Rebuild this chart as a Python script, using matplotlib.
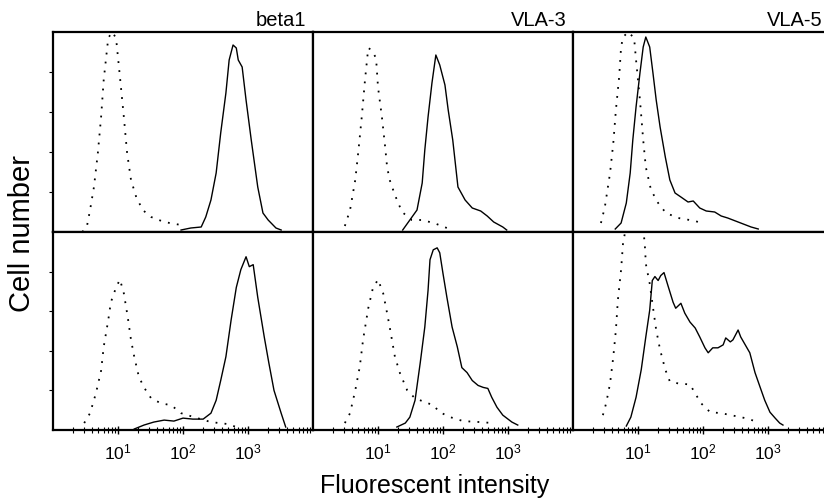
import numpy as np
import matplotlib

matplotlib.use("Agg")
import matplotlib.pyplot as plt

plt.rcParams["font.family"] = ["Liberation Sans", "DejaVu Sans"]
plt.rcParams["mathtext.fontset"] = "custom"
plt.rcParams["mathtext.rm"] = "Liberation Sans"

antibodies = ["beta1", "VLA-3", "VLA-5"]
decade_ticks = [10, 100, 1000]
decade_labels = [r"$\mathregular{10^1}$", r"$\mathregular{10^2}$", r"$\mathregular{10^3}$"]

# x values are log10(fluorescent intensity), y is relative cell number
# top row
top_beta1_ctrl_x = [0.45, 0.52, 0.57, 0.63, 0.69, 0.74, 0.78, 0.85, 0.91, 0.97, 1.03, 1.09,
                    1.14, 1.2, 1.28, 1.38, 1.51, 1.71, 1.97]
top_beta1_ctrl_y = [0.0, 0.025, 0.11, 0.225, 0.395, 0.575, 0.76, 0.97, 1.0, 0.97, 0.775, 0.575,
                    0.395, 0.26, 0.175, 0.11, 0.075, 0.05, 0.035]
top_beta1_stain_x = [1.97, 2.12, 2.28, 2.35, 2.43, 2.51, 2.58, 2.66, 2.71, 2.77, 2.82, 2.85,
                     2.91, 2.97, 3.05, 3.15, 3.23, 3.31, 3.43, 3.51]
top_beta1_stain_y = [0.01, 0.02, 0.025, 0.075, 0.16, 0.295, 0.495, 0.695, 0.86, 0.935, 0.92,
                     0.86, 0.825, 0.66, 0.46, 0.225, 0.095, 0.06, 0.02, 0.01]

top_vla3_ctrl_x = [0.49, 0.57, 0.65, 0.70, 0.75, 0.80, 0.85, 0.90, 0.97, 1.0, 1.06, 1.11, 1.14,
                   1.18, 1.26, 1.37, 1.52, 1.69, 1.9, 2.06]
top_vla3_ctrl_y = [0.03, 0.11, 0.26, 0.41, 0.575, 0.76, 0.92, 0.91, 0.87, 0.725, 0.575, 0.425,
                   0.325, 0.26, 0.185, 0.10, 0.06, 0.06, 0.04, 0.02]
top_vla3_stain_x = [1.38, 1.49, 1.6, 1.68, 1.72, 1.77, 1.83, 1.89, 1.95, 2.03, 2.08, 2.15, 2.23,
                    2.34, 2.45, 2.58, 2.68, 2.78, 2.92, 2.98]
top_vla3_stain_y = [0.01, 0.06, 0.11, 0.245, 0.41, 0.575, 0.745, 0.885, 0.835, 0.735, 0.61, 0.46,
                    0.225, 0.16, 0.12, 0.105, 0.08, 0.05, 0.025, 0.01]

top_vla5_ctrl_x = [0.43, 0.49, 0.57, 0.62, 0.66, 0.71, 0.74, 0.77, 0.85, 0.94, 0.97, 1.03, 1.08,
                   1.12, 1.2, 1.31, 1.43, 1.62, 1.88, 1.97]
top_vla5_ctrl_y = [0.045, 0.125, 0.295, 0.445, 0.61, 0.775, 0.925, 0.975, 1.0, 0.97, 0.86, 0.66,
                   0.46, 0.325, 0.21, 0.145, 0.095, 0.07, 0.055, 0.045]
top_vla5_stain_x = [0.65, 0.74, 0.82, 0.88, 0.92, 0.97, 1.03, 1.08, 1.12, 1.18, 1.23, 1.28, 1.34,
                    1.42, 1.49, 1.57, 1.66, 1.77, 1.85, 1.95, 2.05, 2.18, 2.28, 2.38, 2.54, 2.74,
                    2.85]
top_vla5_stain_y = [0.015, 0.045, 0.145, 0.295, 0.46, 0.625, 0.795, 0.925, 0.975, 0.925, 0.795,
                    0.66, 0.525, 0.375, 0.26, 0.195, 0.175, 0.15, 0.155, 0.12, 0.105, 0.1, 0.08,
                    0.07, 0.05, 0.025, 0.015]

# bottom row
bot_beta1_ctrl_x = [0.48, 0.57, 0.66, 0.74, 0.78, 0.85, 0.89, 0.97, 1.03, 1.09, 1.15, 1.2, 1.25,
                    1.32, 1.4, 1.51, 1.66, 1.82, 1.97, 2.17, 2.43, 2.69, 2.82]
bot_beta1_ctrl_y = [0.035, 0.085, 0.185, 0.30, 0.42, 0.555, 0.645, 0.72, 0.76, 0.69, 0.57, 0.455,
                    0.37, 0.27, 0.215, 0.16, 0.135, 0.125, 0.085, 0.065, 0.04, 0.03, 0.015]
bot_beta1_stain_x = [1.25, 1.4, 1.55, 1.71, 1.86, 2.0, 2.15, 2.31, 2.43, 2.51, 2.58, 2.66, 2.74,
                     2.82, 2.89, 2.97, 3.02, 3.08, 3.15, 3.25, 3.32, 3.4, 3.51, 3.58]
bot_beta1_stain_y = [0.005, 0.025, 0.04, 0.05, 0.045, 0.06, 0.055, 0.055, 0.085, 0.15, 0.25, 0.37,
                     0.555, 0.72, 0.81, 0.875, 0.825, 0.835, 0.67, 0.47, 0.34, 0.2, 0.085, 0.015]

bot_vla3_ctrl_x = [0.49, 0.57, 0.65, 0.72, 0.77, 0.85, 0.92, 1.0, 1.08, 1.14, 1.18, 1.26, 1.34,
                   1.45, 1.57, 1.69, 1.85, 1.95, 2.11, 2.31, 2.57, 2.77]
bot_vla3_ctrl_y = [0.035, 0.085, 0.2, 0.32, 0.455, 0.615, 0.715, 0.76, 0.69, 0.59, 0.52, 0.37,
                   0.285, 0.2, 0.16, 0.145, 0.125, 0.09, 0.065, 0.045, 0.04, 0.035]
bot_vla3_stain_x = [1.29, 1.42, 1.49, 1.57, 1.65, 1.72, 1.77, 1.8, 1.85, 1.91, 1.95, 2.0, 2.06,
                    2.14, 2.22, 2.29, 2.37, 2.45, 2.54, 2.62, 2.69, 2.75, 2.83, 2.92, 3.06, 3.15]
bot_vla3_stain_y = [0.015, 0.035, 0.065, 0.15, 0.34, 0.52, 0.705, 0.86, 0.91, 0.92, 0.895, 0.79,
                    0.67, 0.52, 0.42, 0.315, 0.29, 0.25, 0.225, 0.215, 0.21, 0.165, 0.115, 0.075,
                    0.04, 0.025]

bot_vla5_ctrl_x = [0.46, 0.51, 0.57, 0.62, 0.66, 0.69, 0.74, 0.77, 0.82, 0.95, 1.08, 1.11, 1.12,
                   1.18, 1.23, 1.28, 1.34, 1.42, 1.49, 1.62, 1.8, 1.88, 1.97, 2.11, 2.28, 2.43,
                   2.65, 2.85]
bot_vla5_ctrl_y = [0.075, 0.135, 0.235, 0.37, 0.505, 0.655, 0.81, 0.945, 1.03, 1.1, 1.03, 0.91,
                   0.84, 0.74, 0.62, 0.505, 0.405, 0.305, 0.245, 0.235, 0.23, 0.185, 0.135, 0.09,
                   0.085, 0.075, 0.06, 0.04]
bot_vla5_stain_x = [0.82, 0.89, 0.97, 1.05, 1.12, 1.18, 1.22, 1.26, 1.31, 1.35, 1.4, 1.46, 1.54,
                    1.58, 1.66, 1.72, 1.8, 1.88, 1.95, 2.03, 2.08, 2.15, 2.23, 2.31, 2.35, 2.42,
                    2.46, 2.54, 2.58, 2.65, 2.72, 2.8, 2.88, 2.95, 3.03, 3.11, 3.18, 3.23]
bot_vla5_stain_y = [0.02, 0.065, 0.165, 0.305, 0.47, 0.605, 0.755, 0.775, 0.755, 0.78, 0.795,
                    0.73, 0.645, 0.615, 0.64, 0.59, 0.545, 0.515, 0.47, 0.415, 0.39, 0.415, 0.415,
                    0.43, 0.465, 0.445, 0.455, 0.505, 0.47, 0.43, 0.39, 0.29, 0.215, 0.15, 0.09,
                    0.06, 0.035, 0.025]

panels = [
    [(top_beta1_ctrl_x, top_beta1_ctrl_y, top_beta1_stain_x, top_beta1_stain_y),
     (top_vla3_ctrl_x, top_vla3_ctrl_y, top_vla3_stain_x, top_vla3_stain_y),
     (top_vla5_ctrl_x, top_vla5_ctrl_y, top_vla5_stain_x, top_vla5_stain_y)],
    [(bot_beta1_ctrl_x, bot_beta1_ctrl_y, bot_beta1_stain_x, bot_beta1_stain_y),
     (bot_vla3_ctrl_x, bot_vla3_ctrl_y, bot_vla3_stain_x, bot_vla3_stain_y),
     (bot_vla5_ctrl_x, bot_vla5_ctrl_y, bot_vla5_stain_x, bot_vla5_stain_y)],
]

fig = plt.figure(figsize=(8.24, 5.0), dpi=100)
W, H = 824.0, 500.0
col_left = [53, 313, 573]
col_w = 260
row_top = [32, 232]
row_h = [200, 198]
title_right = [306, 567, 823]   # right end of the antibody labels, in pixels

for r in range(2):
    for c in range(3):
        ax = fig.add_axes([col_left[c] / W, 1 - (row_top[r] + row_h[r]) / H,
                           col_w / W, row_h[r] / H])
        cx, cy, sx, sy = panels[r][c]
        ax.plot(10 ** np.array(cx), cy, color="black", lw=1.3, linestyle=(0, (1, 4)))
        ax.plot(10 ** np.array(sx), sy, color="black", lw=1.0)
        ax.set_xscale("log")
        ax.set_xlim(1, 1e4)
        ax.set_ylim(0, 1)
        for sp in ax.spines.values():
            sp.set_linewidth(1.6)
        if r == 0:
            fig.text(title_right[c] / W, 1 - 26 / H, antibodies[c], ha="right",
                     va="baseline", fontsize=14.5)
            ax.tick_params(axis="x", which="both", bottom=False, labelbottom=False)
        else:
            ax.set_xticks(decade_ticks)
            ax.set_xticklabels(decade_labels, fontsize=12.5)
            ax.tick_params(axis="x", which="major", direction="inout", length=6, width=1,
                           pad=6)
            ax.tick_params(axis="x", which="minor", direction="inout", length=4, width=0.8)
        if c == 0:
            ax.set_yticks([0.2, 0.4, 0.6, 0.8])
            ax.tick_params(axis="y", direction="out", length=3, width=0.8, labelleft=False)
        else:
            ax.set_yticks([])
        ax.tick_params(axis="y", which="minor", left=False)

fig.text(435 / W, 1 - 493 / H, "Fluorescent intensity", ha="center", va="baseline",
         fontsize=18)
fig.text(22 / W, 1 - 233 / H, "Cell number", ha="center", va="center", rotation=90,
         fontsize=21)

fig.savefig("out.png", dpi=100)
